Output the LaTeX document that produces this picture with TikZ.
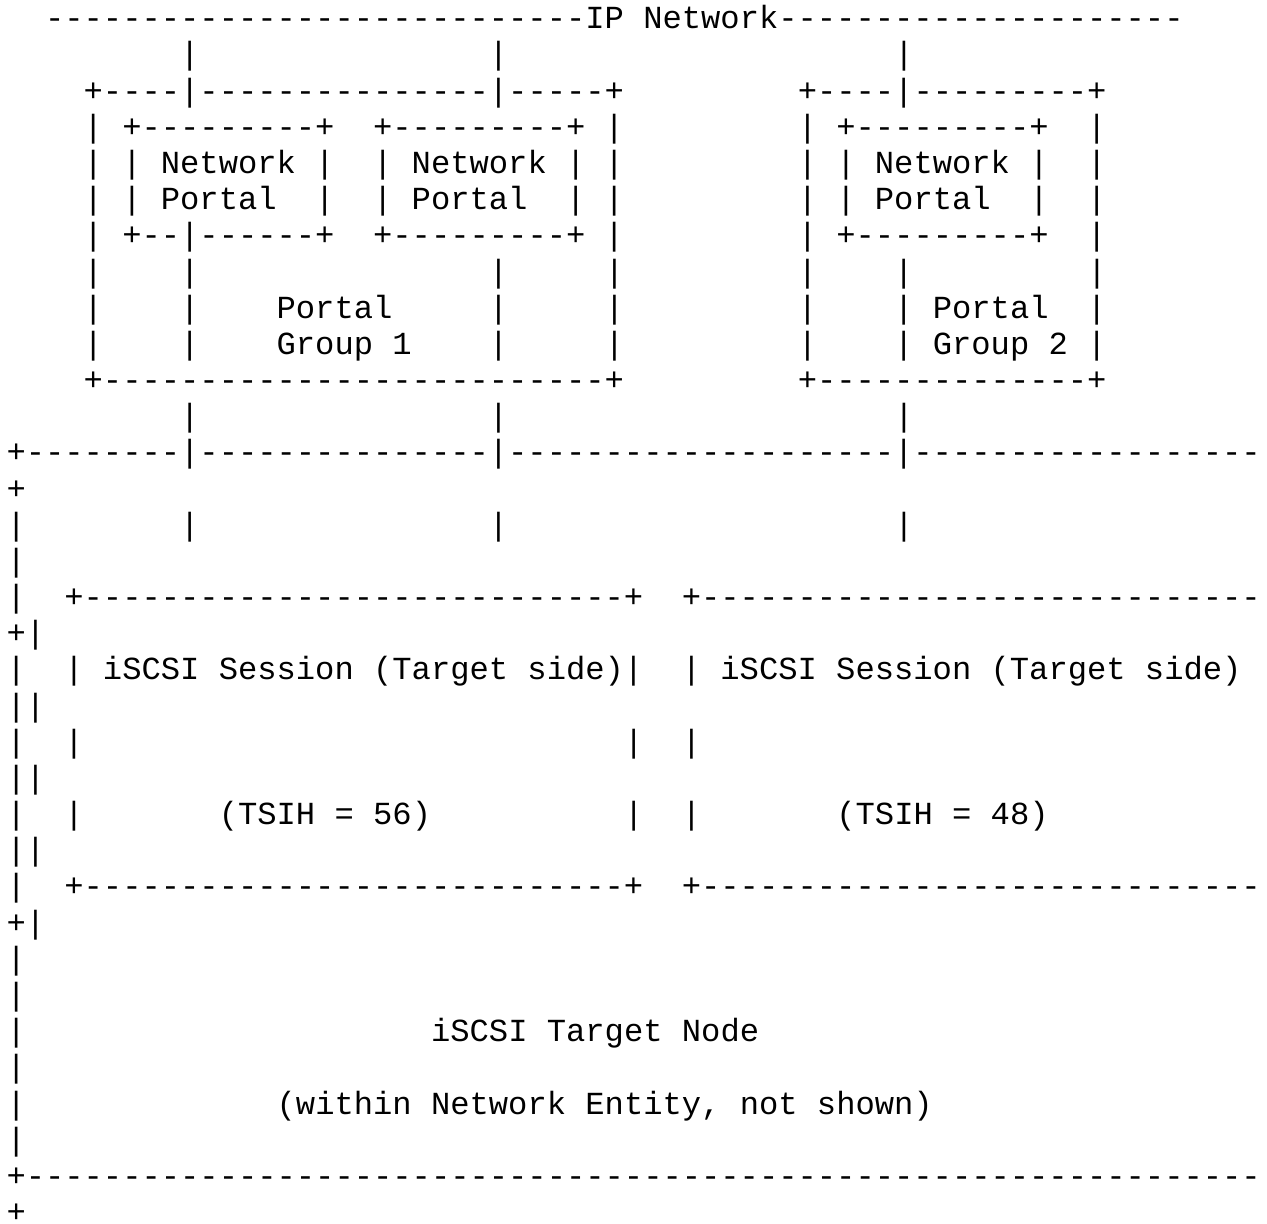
\documentclass[tikz,border=0pt]{standalone}
\usepackage{fontspec}
\setmonofont{Liberation Mono}
\usepackage{tikz}

% runs of one character, for the ascii lines
\newcommand\rpt[2]{\ifnum#1>0 #2\expandafter\rpt\expandafter{\the\numexpr#1-1\relax}{#2}\fi}
\newcommand\dashrun[1]{\rpt{#1}{-}}
\newcommand\gaprun[1]{\rpt{#1}{~}}

\begin{document}
\begin{tikzpicture}[x=14.475pt,y=-27.13pt,
	asciirow/.style={anchor=base west,inner sep=0pt,outer sep=0pt,
		font=\ttfamily\fontsize{24.12pt}{27pt}\selectfont}]
		\fill[white] (-4.875pt,21.6pt) rectangle (945.375pt,-896.4pt);
		
		\foreach \txt [count=\k] in {
			{\gaprun{2}\dashrun{28}IP~Network\dashrun{21}},
			{\gaprun{9}|\gaprun{15}|\gaprun{20}|},
			{\gaprun{4}+\dashrun{4}|\dashrun{15}|\dashrun{5}+\gaprun{9}+\dashrun{4}|\dashrun{9}+},
			{\gaprun{4}|~+\dashrun{9}+~~+\dashrun{9}+~|\gaprun{9}|~+\dashrun{9}+~~|},
			{\gaprun{4}|~|~Network~|~~|~Network~|~|\gaprun{9}|~|~Network~|~~|},
			{\gaprun{4}|~|~Portal~~|~~|~Portal~~|~|\gaprun{9}|~|~Portal~~|~~|},
			{\gaprun{4}|~+\dashrun{2}|\dashrun{6}+~~+\dashrun{9}+~|\gaprun{9}|~+\dashrun{9}+~~|},
			{\gaprun{4}|\gaprun{4}|\gaprun{15}|\gaprun{5}|\gaprun{9}|\gaprun{4}|\gaprun{9}|},
			{\gaprun{4}|\gaprun{4}|\gaprun{4}Portal\gaprun{5}|\gaprun{5}|\gaprun{9}|\gaprun{4}|~Portal~~|},
			{\gaprun{4}|\gaprun{4}|\gaprun{4}Group~1\gaprun{4}|\gaprun{5}|\gaprun{9}|\gaprun{4}|~Group~2~|},
			{\gaprun{4}+\dashrun{26}+\gaprun{9}+\dashrun{14}+},
			{\gaprun{9}|\gaprun{15}|\gaprun{20}|},
			{+\dashrun{8}|\dashrun{15}|\dashrun{20}|\dashrun{18}},
			{+},
			{|\gaprun{8}|\gaprun{15}|\gaprun{20}|},
			{|},
			{|~~+\dashrun{28}+~~+\dashrun{29}},
			{+|},
			{|~~|~iSCSI~Session~(Target~side)|~~|~iSCSI~Session~(Target~side)},
			{||},
			{|~~|\gaprun{28}|~~|},
			{||},
			{|~~|\gaprun{7}(TSIH~=~56)\gaprun{10}|~~|\gaprun{7}(TSIH~=~48)},
			{||},
			{|~~+\dashrun{28}+~~+\dashrun{29}},
			{+|},
			{|},
			{|},
			{|\gaprun{21}iSCSI~Target~Node},
			{|},
			{|\gaprun{13}(within~Network~Entity,~not~shown)},
			{|},
			{+\dashrun{64}},
			{+}}
			\node[asciirow] (r\k) at (0,\k-1) {\txt};
		\end{tikzpicture}
\end{document}
